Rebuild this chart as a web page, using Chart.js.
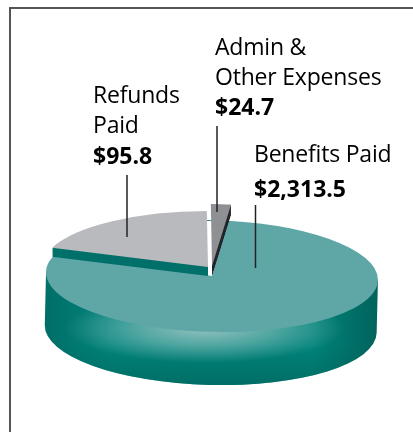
<!DOCTYPE html>
<html>
<head>
<meta charset="utf-8">
<title>Pie chart</title>
<style>
  html, body { margin: 0; padding: 0; background: #fff; }
  canvas { display: block; }
</style>
<script src="https://cdn.jsdelivr.net/npm/chart.js@4/dist/chart.umd.min.js"></script>
</head>
<body>
<canvas id="pieChart" width="413" height="432"></canvas>
<script>
const categories = ['Benefits Paid', 'Refunds Paid', 'Admin & Other Expenses'];
const amounts = ['$2,313.5', '$95.8', '$24.7'];
// the slices in the picture are not to scale with the amounts, so these are degrees read off the drawing
const sliceDegrees = [283.4, 69.6, 7];
const sliceColors = ['#5fa6a6', '#b9babd', '#8f9094'];

// look of the fake 3D pie
const TILT = 1.4 * Math.PI / 180;
const FLATTEN = 0.337;
const DEPTH = 53;
const sliceStyle = [
  { dx: 0, dy: 0, flatten: FLATTEN, tilt: TILT, spin: -1.6 * Math.PI / 180, wall: 0, wallColor: null },
  { dx: -4, dy: -9, flatten: FLATTEN, tilt: 0, spin: 0, wall: 9, wallColor: '#00706a', wallEdge: 'startAngle' },
  { dx: 0, dy: -10, flatten: 0.373, tilt: 0, spin: 0, wall: 10, wallColor: '#26272a', wallEdge: 'endAngle' }
];

// label text blocks: lines, then the bold amount
const labelBlocks = [
  { x: 254, lines: [[categories[0], 162]], amount: 197 },
  { x: 93, lines: [['Refunds', 103], ['Paid', 133]], amount: 164 },
  { x: 215, lines: [['Admin &', 55], ['Other Expenses', 85]], amount: 115 }
];
const leaders = [
  { x: 255.5, y1: 205, y2: 268 },
  { x: 127, y1: 175, y2: 237 },
  { x: 217, y1: 126, y2: 212 }
];

function placeSlice(ctx, arc, style, extraY) {
  ctx.translate(arc.x + style.dx, arc.y + style.dy + extraY);
  ctx.rotate(style.tilt);
  ctx.scale(1, style.flatten);
  ctx.rotate(style.spin);
  ctx.translate(-arc.x, -arc.y);
}

// keep the wall to a band along its cut edge, otherwise the stacked copies darken the other edge
function clipWall(ctx, arc, style) {
  const a = arc[style.wallEdge];
  const x0 = arc.x + style.dx;
  const y0 = arc.y + style.dy;
  const x1 = x0 + arc.outerRadius * Math.cos(a);
  const y1 = y0 + arc.outerRadius * style.flatten * Math.sin(a);
  ctx.beginPath();
  ctx.moveTo(x0, y0 - 2);
  ctx.lineTo(x1, y1 - 2);
  ctx.lineTo(x1, y1 + style.wall + 1);
  ctx.lineTo(x0, y0 + style.wall + 1);
  ctx.closePath();
  ctx.clip();
}

function drawSide(ctx, arc) {
  const r = arc.outerRadius;
  const style = sliceStyle[0];
  const d = DEPTH / style.flatten;
  ctx.save();
  ctx.beginPath();
  ctx.save();
  placeSlice(ctx, arc, Object.assign({}, style, { spin: 0 }), 0);
  ctx.rect(arc.x - r, arc.y, r * 2, d);
  ctx.moveTo(arc.x + r, arc.y + d);
  ctx.arc(arc.x, arc.y + d, r, 0, Math.PI);
  ctx.closePath();
  ctx.restore();
  ctx.clip();

  const across = ctx.createLinearGradient(45, 0, 378, 0);
  across.addColorStop(0, '#006f68');
  across.addColorStop(0.2, '#00847a');
  across.addColorStop(0.8, '#00847a');
  across.addColorStop(1, '#00635c');
  ctx.fillStyle = across;
  ctx.fillRect(0, 250, 413, 150);

  const down = ctx.createLinearGradient(0, 345, 0, 388);
  down.addColorStop(0, 'rgba(0,100,92,0)');
  down.addColorStop(1, 'rgba(0,100,92,0.75)');
  ctx.fillStyle = down;
  ctx.fillRect(0, 250, 413, 150);

  // soft highlight under the front rim
  ctx.save();
  ctx.translate(205, 328);
  ctx.scale(1, 0.25);
  const glow = ctx.createRadialGradient(0, 0, 0, 0, 0, 140);
  glow.addColorStop(0, 'rgba(165,200,200,0.9)');
  glow.addColorStop(0.5, 'rgba(160,200,200,0.5)');
  glow.addColorStop(1, 'rgba(160,200,200,0)');
  ctx.fillStyle = glow;
  ctx.fillRect(-200, -200, 400, 400);
  ctx.restore();
  ctx.restore();
}

const pie3dPlugin = {
  id: 'pie3d',
  beforeDatasetDraw(chart) {
    const ctx = chart.ctx;
    const arcs = chart.getDatasetMeta(0).data;
    drawSide(ctx, arcs[0]);
    // back rim peeking between the two pulled out slices
    ctx.strokeStyle = '#2f8f8a';
    ctx.lineWidth = 1;
    ctx.beginPath();
    ctx.moveTo(207, 220.5);
    ctx.lineTo(212, 220.5);
    ctx.stroke();
    arcs.forEach((arc, i) => {
      const style = sliceStyle[i];
      const faceOptions = arc.options;
      if (style.wall) {
        arc.options = Object.assign({}, faceOptions, { backgroundColor: style.wallColor });
        ctx.save();
        clipWall(ctx, arc, style);
        for (let k = style.wall; k > 0; k--) {
          ctx.save();
          placeSlice(ctx, arc, style, k);
          arc.draw(ctx);
          ctx.restore();
        }
        ctx.restore();
        arc.options = faceOptions;
      }
      ctx.save();
      placeSlice(ctx, arc, style, 0);
      arc.draw(ctx);
      ctx.restore();
    });
    return false;
  },
  afterDraw(chart) {
    const ctx = chart.ctx;
    ctx.save();
    // frame
    ctx.strokeStyle = '#555';
    ctx.lineWidth = 2;
    ctx.beginPath();
    ctx.moveTo(10, 432);
    ctx.lineTo(10, 8);
    ctx.lineTo(413, 8);
    ctx.stroke();
    // leader lines
    ctx.strokeStyle = '#222';
    ctx.lineWidth = 1.5;
    leaders.forEach(l => {
      ctx.beginPath();
      ctx.moveTo(l.x, l.y1);
      ctx.lineTo(l.x, l.y2);
      ctx.stroke();
    });
    // labels
    ctx.fillStyle = '#000';
    ctx.textBaseline = 'alphabetic';
    labelBlocks.forEach((b, i) => {
      ctx.letterSpacing = '-0.2px';
      ctx.font = '23px "Open Sans"';
      b.lines.forEach(line => ctx.fillText(line[0], b.x, line[1]));
      ctx.letterSpacing = '0px';
      ctx.font = 'bold 23px "Open Sans"';
      ctx.fillText(amounts[i], b.x, b.amount);
    });
    ctx.restore();
  }
};

new Chart(document.getElementById('pieChart'), {
  type: 'pie',
  data: {
    labels: categories,
    datasets: [{
      data: sliceDegrees,
      backgroundColor: sliceColors,
      borderWidth: 0,
      radius: 166
    }]
  },
  options: {
    responsive: false,
    animation: false,
    rotation: 6.6,
    layout: { padding: { left: 11, top: 120 } },
    plugins: { legend: { display: false }, tooltip: { enabled: false } }
  },
  plugins: [pie3dPlugin]
});
</script>
</body>
</html>
